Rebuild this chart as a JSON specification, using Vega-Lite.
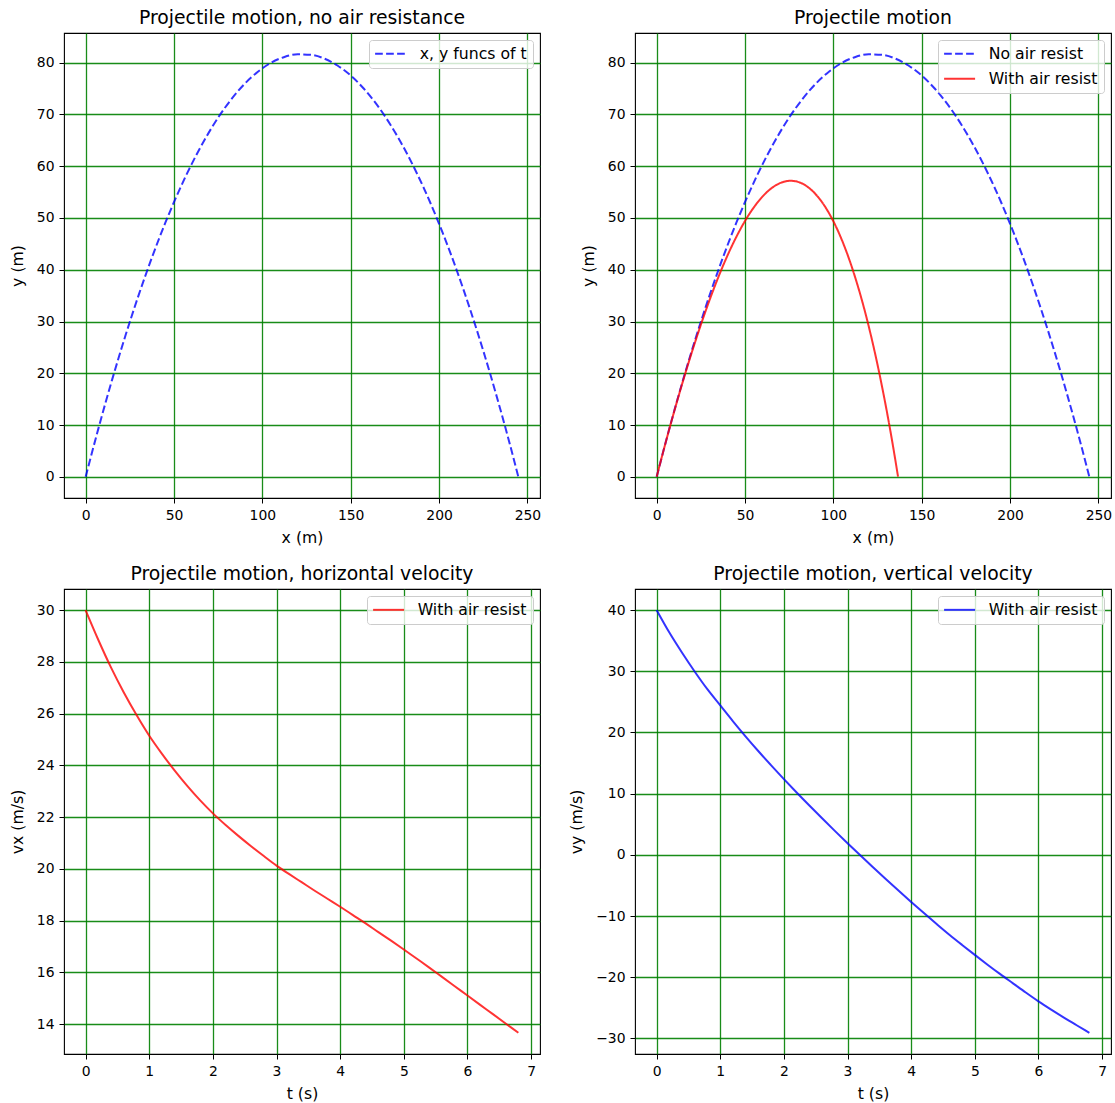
{
  "$schema": "https://vega.github.io/schema/vega-lite/v6.json",
  "background": "white",
  "padding": {"left": 8, "top": 8, "right": 0, "bottom": 0},
  "columns": 2,
  "spacing": {"row": 17, "column": 26},
  "resolve": {
    "scale": {"color": "independent", "strokeDash": "independent", "x": "independent", "y": "independent"},
    "legend": {"color": "independent", "strokeDash": "independent"}
  },
  "config": {
    "font": "DejaVu Sans",
    "view": {"stroke": "#000", "strokeWidth": 1.1},
    "axis": {
      "domain": false, "grid": true, "gridColor": "#008000", "gridWidth": 1.3, "gridOpacity": 0.9,
      "ticks": true, "tickColor": "#000", "tickSize": 5, "tickWidth": 1,
      "labelFontSize": 13.9, "labelColor": "#000", "labelPadding": 5, "labelFlush": false,
      "titleFontSize": 15.7, "titleFontWeight": "normal", "titleColor": "#000",
      "labelFont": "DejaVu Sans", "titleFont": "DejaVu Sans"
    },
    "axisX": {"titlePadding": 9},
    "axisY": {"titlePadding": 11},
    "title": {"fontSize": 18.8, "fontWeight": "normal", "color": "#000", "offset": 5, "font": "DejaVu Sans", "anchor": "middle"},
    "legend": {
      "orient": "top-right", "offset": 7, "padding": 6,
      "fillColor": "rgba(255,255,255,0.8)", "strokeColor": "#cccccc", "cornerRadius": 3,
      "labelFontSize": 15.7, "labelColor": "#000", "labelFont": "DejaVu Sans",
      "symbolType": "M-2,0H6", "symbolSize": 60, "symbolStrokeWidth": 2, "symbolOpacity": 0.8,
      "labelOffset": 29, "rowPadding": 8
    }
  },
  "datasets": {
    "noair": [
      {"t": 0, "x": 0, "y": 0},
      {"t": 0.25, "x": 7.5, "y": 9.69},
      {"t": 0.5, "x": 15, "y": 18.78},
      {"t": 0.75, "x": 22.5, "y": 27.24},
      {"t": 1, "x": 30, "y": 35.1},
      {"t": 1.25, "x": 37.5, "y": 42.34},
      {"t": 1.5, "x": 45, "y": 48.98},
      {"t": 1.75, "x": 52.5, "y": 54.99},
      {"t": 2, "x": 60, "y": 60.4},
      {"t": 2.25, "x": 67.5, "y": 65.19},
      {"t": 2.5, "x": 75, "y": 69.38},
      {"t": 2.75, "x": 82.5, "y": 72.94},
      {"t": 3, "x": 90, "y": 75.9},
      {"t": 3.25, "x": 97.5, "y": 78.24},
      {"t": 3.5, "x": 105, "y": 79.98},
      {"t": 3.75, "x": 112.5, "y": 81.09},
      {"t": 4, "x": 120, "y": 81.6},
      {"t": 4.25, "x": 127.5, "y": 81.49},
      {"t": 4.5, "x": 135, "y": 80.78},
      {"t": 4.75, "x": 142.5, "y": 79.44},
      {"t": 5, "x": 150, "y": 77.5},
      {"t": 5.25, "x": 157.5, "y": 74.94},
      {"t": 5.5, "x": 165, "y": 71.78},
      {"t": 5.75, "x": 172.5, "y": 67.99},
      {"t": 6, "x": 180, "y": 63.6},
      {"t": 6.25, "x": 187.5, "y": 58.59},
      {"t": 6.5, "x": 195, "y": 52.98},
      {"t": 6.75, "x": 202.5, "y": 46.74},
      {"t": 7, "x": 210, "y": 39.9},
      {"t": 7.25, "x": 217.5, "y": 32.44},
      {"t": 7.5, "x": 225, "y": 24.38},
      {"t": 7.75, "x": 232.5, "y": 15.69},
      {"t": 8, "x": 240, "y": 6.4},
      {"t": 8.163, "x": 244.89, "y": 0}
    ],
    "air": [
      {"t": 0, "x": 0, "y": 0, "vx": 30.0, "vy": 40.0},
      {"t": 0.2, "x": 5.89, "y": 7.63, "vx": 28.85, "vy": 36.33},
      {"t": 0.4, "x": 11.55, "y": 14.57, "vx": 27.78, "vy": 33.03},
      {"t": 0.6, "x": 17.01, "y": 20.87, "vx": 26.82, "vy": 29.93},
      {"t": 0.8, "x": 22.28, "y": 26.56, "vx": 25.95, "vy": 27.03},
      {"t": 1.0, "x": 27.39, "y": 31.71, "vx": 25.15, "vy": 24.43},
      {"t": 1.2, "x": 32.35, "y": 36.33, "vx": 24.45, "vy": 21.83},
      {"t": 1.4, "x": 37.18, "y": 40.45, "vx": 23.8, "vy": 19.33},
      {"t": 1.6, "x": 41.88, "y": 44.08, "vx": 23.2, "vy": 16.93},
      {"t": 1.8, "x": 46.46, "y": 47.23, "vx": 22.65, "vy": 14.63},
      {"t": 2.0, "x": 50.94, "y": 49.94, "vx": 22.15, "vy": 12.38},
      {"t": 2.2, "x": 55.33, "y": 52.19, "vx": 21.7, "vy": 10.19},
      {"t": 2.4, "x": 59.63, "y": 54.02, "vx": 21.28, "vy": 8.06},
      {"t": 2.6, "x": 63.84, "y": 55.42, "vx": 20.88, "vy": 5.97},
      {"t": 2.8, "x": 67.98, "y": 56.41, "vx": 20.5, "vy": 3.92},
      {"t": 3.0, "x": 72.04, "y": 56.99, "vx": 20.13, "vy": 1.91},
      {"t": 3.2, "x": 76.04, "y": 57.17, "vx": 19.8, "vy": -0.07},
      {"t": 3.4, "x": 79.96, "y": 56.97, "vx": 19.48, "vy": -2.02},
      {"t": 3.6, "x": 83.83, "y": 56.37, "vx": 19.16, "vy": -3.94},
      {"t": 3.8, "x": 87.63, "y": 55.39, "vx": 18.85, "vy": -5.83},
      {"t": 4.0, "x": 91.37, "y": 54.04, "vx": 18.54, "vy": -7.69},
      {"t": 4.2, "x": 95.04, "y": 52.32, "vx": 18.22, "vy": -9.51},
      {"t": 4.4, "x": 98.65, "y": 50.24, "vx": 17.9, "vy": -11.3},
      {"t": 4.6, "x": 102.2, "y": 47.81, "vx": 17.56, "vy": -13.05},
      {"t": 4.8, "x": 105.68, "y": 45.02, "vx": 17.23, "vy": -14.72},
      {"t": 5.0, "x": 109.09, "y": 41.9, "vx": 16.89, "vy": -16.35},
      {"t": 5.2, "x": 112.43, "y": 38.44, "vx": 16.54, "vy": -17.95},
      {"t": 5.4, "x": 115.71, "y": 34.67, "vx": 16.19, "vy": -19.5},
      {"t": 5.6, "x": 118.91, "y": 30.59, "vx": 15.83, "vy": -21.0},
      {"t": 5.8, "x": 122.04, "y": 26.19, "vx": 15.47, "vy": -22.5},
      {"t": 6.0, "x": 125.1, "y": 21.51, "vx": 15.11, "vy": -23.95},
      {"t": 6.2, "x": 128.08, "y": 16.54, "vx": 14.75, "vy": -25.3},
      {"t": 6.4, "x": 131.0, "y": 11.3, "vx": 14.39, "vy": -26.6},
      {"t": 6.6, "x": 133.84, "y": 5.8, "vx": 14.03, "vy": -27.85},
      {"t": 6.8, "x": 136.61, "y": 0.04, "vx": 13.67, "vy": -29.1}
    ]
  },
  "concat": [
    {
      "width": 476, "height": 465,
      "title": "Projectile motion, no air resistance",
      "data": {"name": "noair"},
      "mark": {"type": "line", "strokeWidth": 2, "opacity": 0.8, "interpolate": "monotone"},
      "encoding": {
        "x": {"field": "x", "type": "quantitative", "scale": {"domain": [-12.245, 257.135], "nice": false, "zero": false}, "axis": {"title": "x (m)", "values": [0, 50, 100, 150, 200, 250]}},
        "y": {"field": "y", "type": "quantitative", "scale": {"domain": [-4.08, 85.71], "nice": false, "zero": false}, "axis": {"title": "y (m)", "values": [0, 10, 20, 30, 40, 50, 60, 70, 80]}},
        "order": {"field": "t", "type": "quantitative"},
        "color": {"datum": "x, y funcs of t", "scale": {"domain": ["x, y funcs of t"], "range": ["#0000ff"]}, "legend": {"title": null}},
        "strokeDash": {"datum": "x, y funcs of t", "scale": {"domain": ["x, y funcs of t"], "range": [[7.7, 3.3]]}, "legend": {"title": null}}
      }
    },
    {
      "width": 476, "height": 465,
      "title": "Projectile motion",
      "layer": [
        {
          "data": {"name": "noair"},
          "mark": {"type": "line", "strokeWidth": 2, "opacity": 0.8, "interpolate": "monotone"},
          "encoding": {
            "x": {"field": "x", "type": "quantitative", "scale": {"domain": [-12.245, 257.135], "nice": false, "zero": false}, "axis": {"title": "x (m)", "values": [0, 50, 100, 150, 200, 250]}},
            "y": {"field": "y", "type": "quantitative", "scale": {"domain": [-4.08, 85.71], "nice": false, "zero": false}, "axis": {"title": "y (m)", "values": [0, 10, 20, 30, 40, 50, 60, 70, 80]}},
            "order": {"field": "t", "type": "quantitative"},
            "color": {"datum": "No air resist", "scale": {"domain": ["No air resist", "With air resist"], "range": ["#0000ff", "#ff0000"]}, "legend": {"title": null}},
            "strokeDash": {"datum": "No air resist", "scale": {"domain": ["No air resist", "With air resist"], "range": [[7.7, 3.3], [1, 0]]}, "legend": {"title": null}}
          }
        },
        {
          "data": {"name": "air"},
          "mark": {"type": "line", "strokeWidth": 2, "opacity": 0.8, "interpolate": "monotone"},
          "encoding": {
            "x": {"field": "x", "type": "quantitative"},
            "y": {"field": "y", "type": "quantitative"},
            "order": {"field": "t", "type": "quantitative"},
            "color": {"datum": "With air resist"},
            "strokeDash": {"datum": "With air resist"}
          }
        }
      ]
    },
    {
      "width": 476, "height": 465,
      "title": "Projectile motion, horizontal velocity",
      "data": {"name": "air"},
      "mark": {"type": "line", "strokeWidth": 2, "opacity": 0.8, "interpolate": "monotone"},
      "encoding": {
        "x": {"field": "t", "type": "quantitative", "scale": {"domain": [-0.34, 7.14], "nice": false, "zero": false}, "axis": {"title": "t (s)", "values": [0, 1, 2, 3, 4, 5, 6, 7]}},
        "y": {"field": "vx", "type": "quantitative", "scale": {"domain": [12.85, 30.82], "nice": false, "zero": false}, "axis": {"title": "vx (m/s)", "values": [14, 16, 18, 20, 22, 24, 26, 28, 30]}},
        "color": {"datum": "With air resist", "scale": {"domain": ["With air resist"], "range": ["#ff0000"]}, "legend": {"title": null}}
      }
    },
    {
      "width": 476, "height": 465,
      "title": "Projectile motion, vertical velocity",
      "data": {"name": "air"},
      "mark": {"type": "line", "strokeWidth": 2, "opacity": 0.8, "interpolate": "monotone"},
      "encoding": {
        "x": {"field": "t", "type": "quantitative", "scale": {"domain": [-0.34, 7.14], "nice": false, "zero": false}, "axis": {"title": "t (s)", "values": [0, 1, 2, 3, 4, 5, 6, 7]}},
        "y": {"field": "vy", "type": "quantitative", "scale": {"domain": [-32.55, 43.45], "nice": false, "zero": false}, "axis": {"title": "vy (m/s)", "values": [-30, -20, -10, 0, 10, 20, 30, 40], "labelExpr": "replace(datum.label, '-', '−')"}},
        "color": {"datum": "With air resist", "scale": {"domain": ["With air resist"], "range": ["#0000ff"]}, "legend": {"title": null}}
      }
    }
  ]
}
